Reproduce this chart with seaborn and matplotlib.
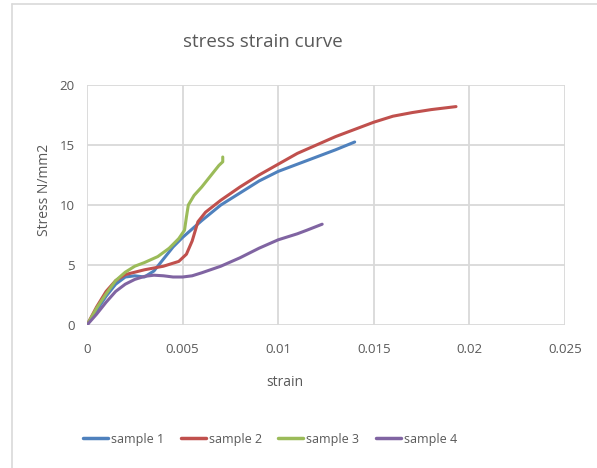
import pandas as pd
import matplotlib.pyplot as plt
import seaborn as sns
from matplotlib.lines import Line2D

# values
s1_strain = [0, 0.0005, 0.001, 0.0015, 0.002, 0.0025, 0.003, 0.0035, 0.004, 0.0045, 0.005,
             0.006, 0.007, 0.008, 0.009, 0.010, 0.011, 0.012, 0.013, 0.014]
s1_stress = [0, 1.2, 2.4, 3.4, 4.0, 4.1, 4.0, 4.5, 5.5, 6.5, 7.3,
             8.7, 10.0, 11.0, 12.0, 12.8, 13.4, 14.0, 14.6, 15.25]

s2_strain = [0, 0.0005, 0.001, 0.0015, 0.002, 0.003, 0.004, 0.0048, 0.0052, 0.0055, 0.0058,
             0.0062, 0.007, 0.008, 0.009, 0.010, 0.011, 0.012, 0.013, 0.014, 0.015,
             0.016, 0.017, 0.018, 0.0193]
s2_stress = [0, 1.5, 2.8, 3.7, 4.2, 4.6, 4.9, 5.3, 5.9, 7.0, 8.6,
             9.4, 10.4, 11.5, 12.5, 13.4, 14.3, 15.0, 15.7, 16.3, 16.9,
             17.4, 17.7, 17.95, 18.2]

s3_strain = [0, 0.0005, 0.001, 0.0015, 0.002, 0.0025, 0.003, 0.0037, 0.0043, 0.0048, 0.0051,
             0.0052, 0.0053, 0.0056, 0.006, 0.0065, 0.0069, 0.0071, 0.0071]
s3_stress = [0, 1.4, 2.6, 3.7, 4.4, 4.9, 5.2, 5.7, 6.4, 7.2, 7.9,
             9.0, 10.0, 10.8, 11.5, 12.5, 13.3, 13.6, 14.0]

s4_strain = [0, 0.0005, 0.001, 0.0015, 0.002, 0.0025, 0.003, 0.0035, 0.004, 0.0045, 0.005,
             0.0055, 0.006, 0.007, 0.008, 0.009, 0.010, 0.011, 0.0115, 0.0123]
s4_stress = [0, 0.9, 1.9, 2.8, 3.4, 3.8, 4.05, 4.15, 4.1, 4.0, 4.0,
             4.1, 4.35, 4.9, 5.6, 6.4, 7.1, 7.6, 7.9, 8.4]

names = ['sample 1', 'sample 2', 'sample 3', 'sample 4']
colors = ['#4F81BD', '#C0504D', '#9BBB59', '#8064A2']

frames = []
for name, xs, ys in zip(names, [s1_strain, s2_strain, s3_strain, s4_strain],
                        [s1_stress, s2_stress, s3_stress, s4_stress]):
    frames.append(pd.DataFrame({'strain': xs, 'stress': ys, 'sample': name}))
df = pd.concat(frames, ignore_index=True)

sns.set_theme(style="white")
plt.rcParams['font.family'] = ['Open Sans', 'DejaVu Sans']

fig = plt.figure(figsize=(5.97, 4.68), dpi=100)
ax = fig.add_axes([87 / 597, 1 - 325 / 468, 478 / 597, 240 / 468])

sns.lineplot(data=df, x='strain', y='stress', hue='sample', palette=colors,
             sort=False, estimator=None, linewidth=2.2, ax=ax)

ax.set_xlim(0, 0.025)
ax.set_ylim(0, 20)
ax.set_xticks([0, 0.005, 0.01, 0.015, 0.02, 0.025])
ax.set_xticklabels(['0', '0.005', '0.01', '0.015', '0.02', '0.025'])
ax.set_yticks([0, 5, 10, 15, 20])
ax.grid(True, color='#d9d9d9', linewidth=1.3)
ax.set_axisbelow(True)
for sp in ax.spines.values():
    sp.set_visible(False)
ax.tick_params(axis='both', colors='#595959', labelsize=9.5, length=0)
ax.tick_params(axis='x', pad=13)
ax.tick_params(axis='y', pad=9)
ax.set_xlabel('')
ax.set_ylabel('')

fig.text(263 / 597, 1 - 42 / 468, 'stress strain curve', ha='center', va='center',
         fontsize=13.5, color='#595959')
fig.text(285 / 597, 1 - 382 / 468, 'strain', ha='center', va='center',
         fontsize=10, color='#595959')
fig.text(45 / 597, 1 - 190 / 468, 'Stress N/mm2', ha='center', va='center',
         rotation=90, fontsize=10, color='#595959')

ax.legend_.remove()
handles = [Line2D([0], [0], color=c, linewidth=2.5) for c in colors]
fig.legend(handles, names, loc='center', bbox_to_anchor=(270 / 597, 1 - 439 / 468),
           ncol=4, frameon=False, fontsize=9, handlelength=2.0, handletextpad=0.25,
           columnspacing=1.3, labelcolor='#595959')

# chart frame
fig.add_artist(Line2D([12 / 597, 12 / 597], [0, 1 - 4 / 468], color='#d9d9d9', linewidth=1.2))
fig.add_artist(Line2D([12 / 597, 1], [1 - 4 / 468, 1 - 4 / 468], color='#d9d9d9', linewidth=1.2))

fig.savefig('out.png', dpi=100)
